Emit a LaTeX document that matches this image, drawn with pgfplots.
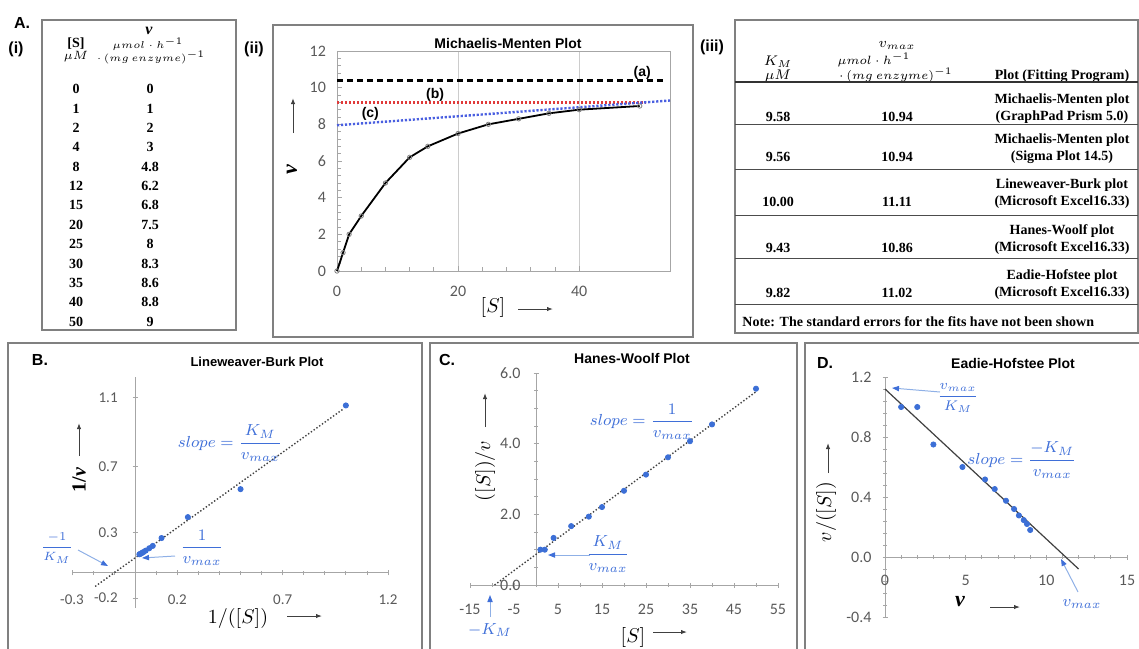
\documentclass[border=0pt]{standalone}
\usepackage{amsmath}
\usepackage{pgfplots}
\pgfplotsset{compat=1.18}
\usepackage{fontspec}
\usetikzlibrary{arrows.meta}
\setmainfont{Liberation Serif}
\newfontfamily\carlito{Carlito}
\newfontfamily\arialf{Liberation Sans}
\definecolor{exblue}{HTML}{3C6FD6}
\definecolor{annblue}{HTML}{3F6FD8}
\definecolor{arrblue}{HTML}{8FB0E6}
\definecolor{tickgray}{HTML}{595959}
\definecolor{axgray}{HTML}{A6A6A6}
\definecolor{boxgray}{HTML}{808080}
\definecolor{mmred}{HTML}{E03A3A}
\definecolor{mmblue}{HTML}{4A5FE0}
\newcommand{\tf}{\fontsize{7}{8.4}\selectfont\bfseries}
\newcommand{\ttl}{\arialf\bfseries\fontsize{7}{8}\selectfont}
\newcommand{\plet}{\arialf\bfseries\fontsize{8}{9}\selectfont}
\newcommand{\bv}{{\bfseries\itshape v}}
\pgfplotsset{
  exc/.style={scale only axis, anchor=south west, clip=false,
    axis line style={axgray}, tick style={axgray, line width=0.4pt},
    ticklabel style={font=\carlito\fontsize{8}{9}\selectfont, text=tickgray},
    /pgf/number format/assume math mode=true,
    major tick length=2.5pt, minor tick length=1.8pt},
  mid/.style={axis lines=middle, axis line style={-},
    every inner x axis line/.append style={-},
    every inner y axis line/.append style={-},
    hide obscured x ticks=false, hide obscured y ticks=false},
  onedec/.style={/pgf/number format/fixed, /pgf/number format/fixed zerofill, /pgf/number format/precision=1},
}
\begin{document}
\begin{tikzpicture}
\useasboundingbox (0,0) rectangle (569.5pt,-324pt);
\begin{scope}[x=0.5pt,y=-0.5pt]
% panel frames
\draw[boxgray, line width=1pt] (42,20) rectangle (236,330);
\draw[boxgray, line width=1pt] (273,25) rectangle (693,337);
\draw[boxgray, line width=1pt] (735,20) rectangle (1138,333);
\draw[boxgray, line width=1pt] (8,660) |- (422,343) -- (422,660);
\draw[boxgray, line width=1pt] (430,660) |- (797,343) -- (797,660);
\draw[boxgray, line width=1pt] (805,660) |- (1150,343);
% panel letters
\node at (22,23) {\plet A.};
\node at (16,49) {\plet (i)};
\node at (254,49) {\plet (ii)};
\node at (712,47) {\plet (iii)};
\node at (40,360) {\plet B.};
\node at (447,360) {\plet C.};
\node at (825,363) {\plet D.};
% titles
\node at (508,43) {\ttl Michaelis-Menten Plot};
\node at (257,362) {\arialf\bfseries\fontsize{6.5}{8}\selectfont Lineweaver-Burk Plot};
\node at (632,358) {\ttl Hanes-Woolf Plot};
\node at (1013,363) {\ttl Eadie-Hofstee Plot};
% table (i)
\node at (76,44) {\tf [S]};
\node at (76,57) {\fontsize{6.5}{8}\selectfont $\mu M$};
\node at (149,31) {\fontsize{8}{9}\selectfont \bv};
\node[inner sep=1pt] at (148,44) {\fontsize{5.4}{6}\selectfont $\mu mol\cdot h^{-1}$};
\node[inner sep=1pt] at (151,57) {\fontsize{5.4}{6}\selectfont $\cdot\,(mg\ enzyme)^{-1}$};
\foreach \s/\v [count=\i from 0] in {0/0,1/1,2/2,4/3,8/4.8,12/6.2,15/6.8,20/7.5,25/8,30/8.3,35/8.6,40/8.8,50/9}{
  \node at (76,89+\i*19.4) {\tf \s};
  \node at (150,89+\i*19.4) {\tf \v};
}
% table (iii)
\node at (778,62) {\fontsize{7}{8}\selectfont $K_M$};
\node at (778,76) {\fontsize{7}{8}\selectfont $\mu M$};
\node at (897,45) {\fontsize{7}{8}\selectfont $v_{max}$};
\node at (874,60) {\fontsize{6.5}{7}\selectfont $\mu mol\cdot h^{-1}$};
\node at (896,75) {\fontsize{6.5}{7}\selectfont $\cdot\,(mg\ enzyme)^{-1}$};
\node at (1062,76) {\tf Plot (Fitting Program)};
\draw[black!80, line width=0.7pt] (735,82) -- (1138,82);
\foreach \yy in {124,169,215,258,304}{\draw[black!70, line width=0.5pt] (735,\yy) -- (1138,\yy);}
\foreach \k/\vm/\na/\nb/\yy in {9.58/10.94/Michaelis-Menten plot/(GraphPad Prism 5.0)/117,
  9.56/10.94/Michaelis-Menten plot/(Sigma Plot 14.5)/157,
  10.00/11.11/Lineweaver-Burk plot/(Microsoft Excel16.33)/202,
  9.43/10.86/Hanes-Woolf plot/(Microsoft Excel16.33)/248,
  9.82/11.02/Eadie-Hofstee plot/(Microsoft Excel16.33)/293}{
  \node at (778,\yy) {\tf \k};
  \node at (897,\yy) {\tf \vm};
  \node at (1062,\yy-17) {\tf \na};
  \node at (1062,\yy) {\tf \nb};
}
\node[anchor=west, inner sep=0pt] at (742,322) {\tf Note: The standard errors for the fits have not been shown};
\end{scope}

% ---------- (ii) Michaelis-Menten ----------
\begin{axis}[exc, at={(168.5pt,-135.5pt)}, width=166.5pt, height=110pt,
  xmin=0, xmax=55, ymin=0, ymax=12,
  xtick={0,20,40}, ytick={0,2,...,12}, minor x tick num=4, minor y tick num=4,
  tick pos=left, tick align=inside, xmajorgrids, grid style={black!20},
  xticklabel style={yshift=-4pt}, yticklabel style={xshift=-2pt}]
\addplot[black, dash pattern=on 3pt off 2pt, line width=1.2pt] coordinates {(0,10.4) (54,10.4)};
\addplot[mmred, dash pattern=on 1.1pt off 0.9pt, line width=1.2pt] coordinates {(0,9.2) (51,9.2)};
\addplot[mmblue, dash pattern=on 1.1pt off 0.9pt, line width=1.2pt] coordinates {(0,7.95) (55,9.3)};
\addplot[black, line width=0.9pt, mark=o, mark size=1.1pt, mark options={draw=gray, line width=0.4pt}] coordinates {
(0,0) (1,1) (2,2) (4,3) (8,4.8) (12,6.2) (15,6.8) (20,7.5) (25,8) (30,8.3) (35,8.6) (40,8.8) (50,9)};
\node at (axis cs:50.4,10.8) {\ttl (a)};
\node at (axis cs:16.2,9.6) {\ttl (b)};
\node at (axis cs:5.5,8.55) {\ttl (c)};
\end{axis}

% ---------- B Lineweaver-Burk ----------
\begin{axis}[exc, mid, at={(36pt,-304pt)}, width=158pt, height=115.5pt,
  xmin=-0.3, xmax=1.2, ymin=-0.21, ymax=1.17,
  xtick={-0.3,0.2,0.7,1.2}, minor x tick num=4,
  ytick={-0.15,0.24,0.635,1.048}, yticklabels={-0.2,0.3,0.7,1.1}, minor y tick num=4,
  ticklabel style={font=\carlito\fontsize{7.5}{9}\selectfont},
  xticklabel style={yshift=-6pt}, yticklabel style={xshift=-4pt}]
\addplot[black!75, densely dotted, line width=0.7pt] coordinates {(-0.19,-0.081) (0.99,0.981)};
\addplot[only marks, mark=*, mark size=1.3pt, exblue] coordinates {
(1,1) (0.5,0.5) (0.25,0.333) (0.125,0.208) (0.0833,0.161) (0.0667,0.147) (0.05,0.133) (0.04,0.125) (0.0333,0.120) (0.0286,0.116) (0.025,0.114) (0.02,0.111)};
\end{axis}

% ---------- C Hanes-Woolf ----------
\begin{axis}[exc, mid, at={(235pt,-292.5pt)}, width=154pt, height=106pt,
  xmin=-15, xmax=55, ymin=0, ymax=6,
  xtick={-15,-5,...,55}, minor x tick num=1,
  ytick={0,2,4,6}, minor y tick num=3,
  xticklabel style={yshift=-5pt}, yticklabel style={xshift=-3pt, onedec}]
\addplot[black!75, densely dotted, line width=0.7pt] coordinates {(-9.43,0) (50,5.47)};
\addplot[only marks, mark=*, mark size=1.3pt, exblue] coordinates {
(1,1) (2,1) (4,1.333) (8,1.667) (12,1.935) (15,2.206) (20,2.667) (25,3.125) (30,3.614) (35,4.070) (40,4.545) (50,5.556)};
\end{axis}

% ---------- D Eadie-Hofstee ----------
\begin{axis}[exc, mid, at={(442.5pt,-308.5pt)}, width=121pt, height=120pt,
  xmin=0, xmax=15, ymin=-0.4, ymax=1.2,
  xtick={0,5,10,15}, minor x tick num=4,
  ytick={-0.4,0,0.4,0.8,1.2}, minor y tick num=4,
  xticklabel style={yshift=-4.5pt}, yticklabel style={xshift=-2pt, onedec}]
\addplot[black!75, line width=0.6pt] coordinates {(0,1.12) (12,-0.08)};
\addplot[only marks, mark=*, mark size=1.3pt, exblue] coordinates {
(1,1) (2,1) (3,0.75) (4.8,0.6) (6.2,0.517) (6.8,0.453) (7.5,0.375) (8,0.32) (8.3,0.277) (8.6,0.246) (8.8,0.22) (9,0.18)};
\end{axis}

% ---------- labels and annotations ----------
\begin{scope}[x=0.5pt,y=-0.5pt]
\tikzset{ax/.style={black!75, line width=0.5pt, -{Latex[length=3pt,width=2.2pt]}},
         ab/.style={arrblue, line width=0.5pt, -{Triangle[length=3.5pt,width=2.6pt,fill=annblue,color=annblue]}}}
% (ii)
\node[rotate=90] at (292,170) {\fontsize{11}{12}\selectfont \bv};
\draw[ax] (293,133) -- (293,98);
\node at (493,307) {\fontsize{10}{12}\selectfont $[S]$};
\draw[ax] (518,309) -- (553,309);
% B
\node[rotate=90] at (79,480) {\fontsize{10}{12}\selectfont {\bfseries 1/}\bv};
\draw[ax] (79,456) -- (79,423);
\node at (238,618) {\fontsize{10}{12}\selectfont $1/([S])$};
\draw[ax] (287,616) -- (322,616);
\node[text=annblue] at (230,443) {\fontsize{8}{9}\selectfont $\displaystyle slope=\frac{K_M}{v_{max}}$};
\node[text=annblue] at (202,548) {\fontsize{8}{9}\selectfont $\displaystyle \frac{1}{v_{max}}$};
\draw[ab] (175,556) -- (142,558);
\node[text=annblue] at (57,548) {\fontsize{6}{7}\selectfont $\displaystyle \frac{-1}{K_M}$};
\draw[ab] (78,550) -- (108,566);
% C
\node[rotate=90] at (485,471) {\fontsize{10}{12}\selectfont $([S])/v$};
\draw[ax] (485,427) -- (485,393);
\node at (633,637) {\fontsize{10}{12}\selectfont $[S]$};
\draw[ax] (653,632) -- (687,632);
\node[text=annblue] at (642,422) {\fontsize{8}{9}\selectfont $\displaystyle slope=\frac{1}{v_{max}}$};
\node[text=annblue] at (608,554) {\fontsize{8}{9}\selectfont $\displaystyle \frac{K_M}{v_{max}}$};
\draw[ab] (590,555) -- (548,555);
\node[text=annblue] at (490,630) {\fontsize{8}{9}\selectfont $-K_M$};
\draw[ab] (490,617) -- (490,595);
% D
\node[rotate=90] at (826,512) {\fontsize{10}{12}\selectfont $v/([S])$};
\draw[ax] (828,473) -- (828,443);
\node at (960,602) {\fontsize{11}{12}\selectfont \bv};
\draw[ax] (990,607) -- (1020,607);
\node[text=annblue] at (958,398) {\fontsize{7}{8}\selectfont $\displaystyle \frac{v_{max}}{K_M}$};
\draw[ab] (940,392) -- (892,388);
\node[text=annblue] at (1022,460) {\fontsize{8}{9}\selectfont $\displaystyle slope=\frac{-K_M}{v_{max}}$};
\node[text=annblue] at (1082,604) {\fontsize{8}{9}\selectfont $v_{max}$};
\draw[ab] (1078,592) -- (1061,559);
\end{scope}
\end{tikzpicture}
\end{document}
